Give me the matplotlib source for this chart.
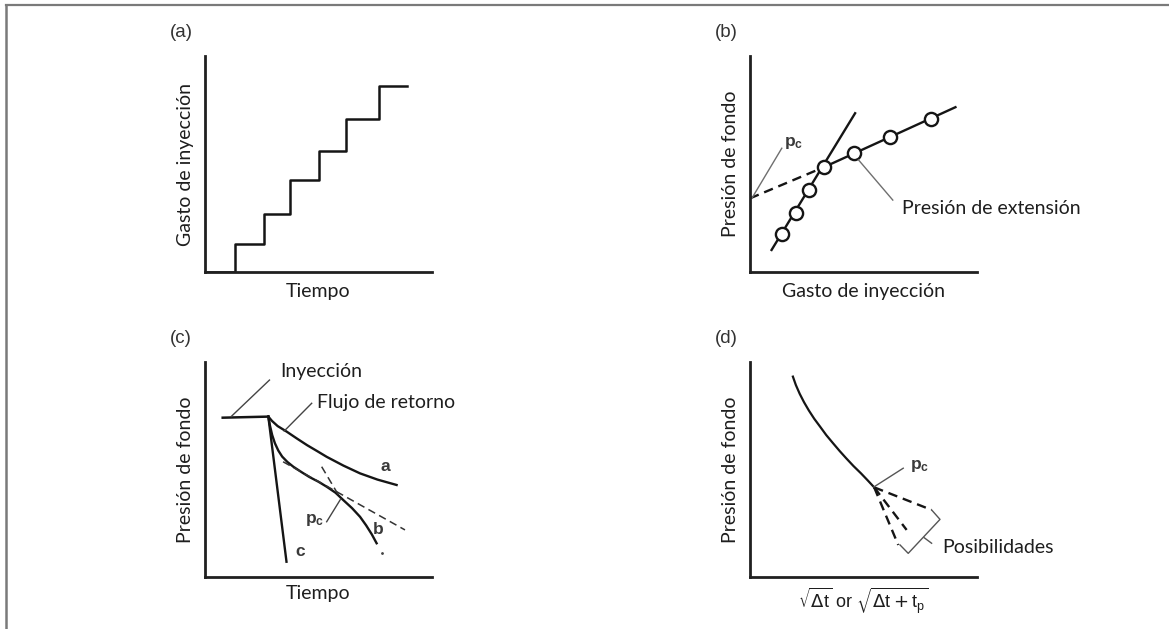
import numpy as np
import matplotlib
matplotlib.use("Agg")
import matplotlib.pyplot as plt
from matplotlib.lines import Line2D

plt.rcParams['font.family'] = ['Lato', 'DejaVu Sans']

# ---------------- datos (unidades relativas 0-100 de cada eje) ----------------
# (a) gasto de inyeccion escalonado
t_a = [0, 13, 26, 37.5, 50, 62, 76.5, 89]
q_a = [0, 13, 27, 42.5, 56, 71, 86, 86]

# (b) presion de fondo vs gasto
q_b = [13.9, 20.2, 25.9, 32.5, 46.0, 61.8, 79.7]
p_b = [17.5, 27.2, 38.0, 48.5, 55.0, 62.6, 70.7]
q_b_steep = [9.5, 46.3]
p_b_steep = [10.2, 73.5]
q_b_flat = [32.5, 90.5]
p_b_flat = [48.5, 76.3]
q_b_dash = [0, 32.5]
p_b_dash = [34.1, 48.5]

# (c) presion de fondo vs tiempo
t_iny = [7.8, 27.9]
p_iny = [74.1, 74.6]
t_ca = [27.9, 29.5, 32.0, 36.0, 40.5, 45.0, 49.5, 53.6, 61.0, 68.3, 76.0, 84.4]
p_ca = [74.6, 72.6, 70.2, 67.6, 64.4, 61.3, 58.5, 55.9, 51.8, 48.2, 45.3, 42.8]
t_cb = [27.9, 28.6, 29.6, 30.8, 32.3, 34.0, 36.3, 38.9, 42.5, 46.0, 50.0, 53.6,
        57.5, 60.9, 64.8, 68.3, 71.0, 73.5, 75.6]
p_cb = [74.6, 70.5, 66.0, 62.2, 58.8, 56.0, 53.5, 51.3, 48.8, 46.5, 44.3, 42.0,
        39.2, 35.8, 32.0, 28.0, 24.0, 19.8, 15.7]
t_cb_end = [77.8]
p_cb_end = [11.0]
t_cc = [27.9, 35.9]
p_cc = [74.6, 7.1]
t_dash1 = [34.4, 88.1]
p_dash1 = [53.6, 21.9]
t_dash2 = [51.4, 60.0]
p_dash2 = [51.3, 36.0]

# (d) presion de fondo vs raiz de tiempo
x_d = [18.9, 20.2, 21.9, 23.8, 25.9, 28.3, 30.9, 33.6, 36.6, 39.5, 42.4, 45.6, 48.9, 51.8, 54.7]
p_d = [93.2, 89.3, 85.2, 81.3, 77.5, 73.6, 69.9, 66.0, 62.2, 58.6, 55.2, 51.6, 48.2, 45.0, 41.7]
x_d_ends = [80.0, 69.0, 65.3]
p_d_ends = [31.2, 21.9, 14.9]
x_brk = [66.1, 69.7, 83.7, 80.0]
p_brk = [14.9, 11.0, 26.8, 31.2]

W, H = 1169, 629
fig = plt.figure(figsize=(W / 100, H / 100), dpi=100)

ink = '#151515'
txt = '#1e1e1e'
gray = '#6f6f6f'
lab_fs = 14
pan_fs = 13.5
small_fs = 12.5


def make_ax(left, top, right, bottom):
    ax = fig.add_axes([left / W, 1 - bottom / H, (right - left) / W, (bottom - top) / H])
    ax.set_xlim(0, 100)
    ax.set_ylim(0, 100)
    for s in ['top', 'right']:
        ax.spines[s].set_visible(False)
    for s in ['left', 'bottom']:
        ax.spines[s].set_linewidth(2.0)
        ax.spines[s].set_color('#202020')
    ax.set_xticks([])
    ax.set_yticks([])
    ax.patch.set_alpha(0)
    return ax


def panel_label(ax, s):
    ax.text(-0.155, 1.11, s, transform=ax.transAxes, fontsize=pan_fs,
            family='Liberation Sans', color='#333333', ha='left', va='center')


def small(ax, x, y, s, ha='center'):
    ax.text(x, y, s, fontsize=small_fs, color='#3a3a3a', family='Liberation Sans',
            fontweight='bold', ha=ha, va='center')


# ---------------- (a) ----------------
ax = make_ax(205, 56, 432, 272)
ax.plot(t_a, q_a, drawstyle='steps-post', color=ink, lw=1.8)
ax.set_xlabel('Tiempo', fontsize=lab_fs, color=txt, labelpad=8)
ax.set_ylabel('Gasto de inyección', fontsize=lab_fs, color=txt, labelpad=8)
panel_label(ax, '(a)')

# ---------------- (b) ----------------
ax = make_ax(750, 56, 977, 272)
ax.plot(q_b_steep, p_b_steep, color=ink, lw=1.7)
ax.plot(q_b_flat, p_b_flat, color=ink, lw=1.7)
ax.plot(q_b_dash, p_b_dash, color=ink, lw=1.7, ls=(0, (4, 2.5)))
ax.plot(q_b, p_b, 'o', ms=9.5, mfc='white', mec=ink, mew=1.7)
ax.plot([0.8, 14.0], [34.1, 57.3], color=gray, lw=1.0)
small(ax, 15.0, 59.5, r'$\mathregular{p_c}$', ha='left')
ax.plot([47.8, 62.9], [51.9, 33.3], color=gray, lw=1.0)
ax.text(67.0, 29.6, 'Presión de extensión', fontsize=lab_fs, color=txt,
        ha='left', va='center')
ax.set_xlabel('Gasto de inyección', fontsize=lab_fs, color=txt, labelpad=8)
ax.set_ylabel('Presión de fondo', fontsize=lab_fs, color=txt, labelpad=8)
panel_label(ax, '(b)')

# ---------------- (c) ----------------
ax = make_ax(205, 362, 432, 577)
ax.plot(t_iny, p_iny, color=ink, lw=1.8)
ax.plot(t_ca, p_ca, color=ink, lw=1.7)
ax.plot(t_cb, p_cb, color=ink, lw=1.7)
ax.plot(t_cb_end, p_cb_end, '.', color='#444444', ms=2)
ax.plot(t_cc, p_cc, color=ink, lw=1.7)
ax.plot(t_dash1, p_dash1, color='#333333', lw=1.1, ls=(0, (5, 3)))
ax.plot(t_dash2, p_dash2, color='#333333', lw=1.1, ls=(0, (5, 3)))
ax.plot([11.5, 28.4], [74.6, 91.6], color='#444444', lw=1.0)
ax.text(33.0, 95.8, 'Inyección', fontsize=lab_fs, color=txt, ha='left', va='center')
ax.plot([47.0, 34.9], [80.8, 67.9], color='#444444', lw=1.0)
ax.text(49.3, 81.3, 'Flujo de retorno', fontsize=lab_fs, color=txt, ha='left', va='center')
ax.plot([53.6, 59.5], [25.7, 35.8], color='#444444', lw=1.0)
small(ax, 52.5, 26.5, r'$\mathregular{p_c}$', ha='right')
for s, xx, yy in [('a', 79.3, 51.3), ('b', 76.3, 21.9), ('c', 41.9, 11.8)]:
    small(ax, xx, yy, s)
ax.set_xlabel('Tiempo', fontsize=lab_fs, color=txt, labelpad=6)
ax.set_ylabel('Presión de fondo', fontsize=lab_fs, color=txt, labelpad=8)
panel_label(ax, '(c)')

# ---------------- (d) ----------------
ax = make_ax(750, 362, 977, 577)
ax.plot(x_d, p_d, color=ink, lw=1.6)
for xe, pe in zip(x_d_ends, p_d_ends):
    ax.plot([x_d[-1], xe], [p_d[-1], pe], color=ink, lw=1.7, ls=(0, (4, 2.5)))
ax.plot(x_brk, p_brk, color='#555555', lw=1.0)
ax.plot([76.7, 80.0], [18.3, 15.7], color='#555555', lw=1.0)
ax.text(84.6, 13.6, 'Posibilidades', fontsize=lab_fs, color=txt, ha='left', va='center')
ax.plot([54.6, 67.5], [41.9, 50.6], color='#555555', lw=1.0)
small(ax, 70.5, 51.5, r'$\mathregular{p_c}$', ha='left')
ax.set_xlabel(r'$\sqrt{\Delta \mathregular{t}}$ or $\sqrt{\Delta \mathregular{t} + \mathregular{t_p}}$',
              fontsize=13, color=txt, labelpad=6, family='Liberation Sans')
ax.set_ylabel('Presión de fondo', fontsize=lab_fs, color=txt, labelpad=8)
panel_label(ax, '(d)')

# marco exterior
fig.add_artist(Line2D([6 / W, 1], [1 - 5 / H, 1 - 5 / H], color='#7a7a7a', lw=1.6))
fig.add_artist(Line2D([6 / W, 6 / W], [0, 1 - 5 / H], color='#7a7a7a', lw=1.8))

fig.savefig('out.png', dpi=100, facecolor='white')
